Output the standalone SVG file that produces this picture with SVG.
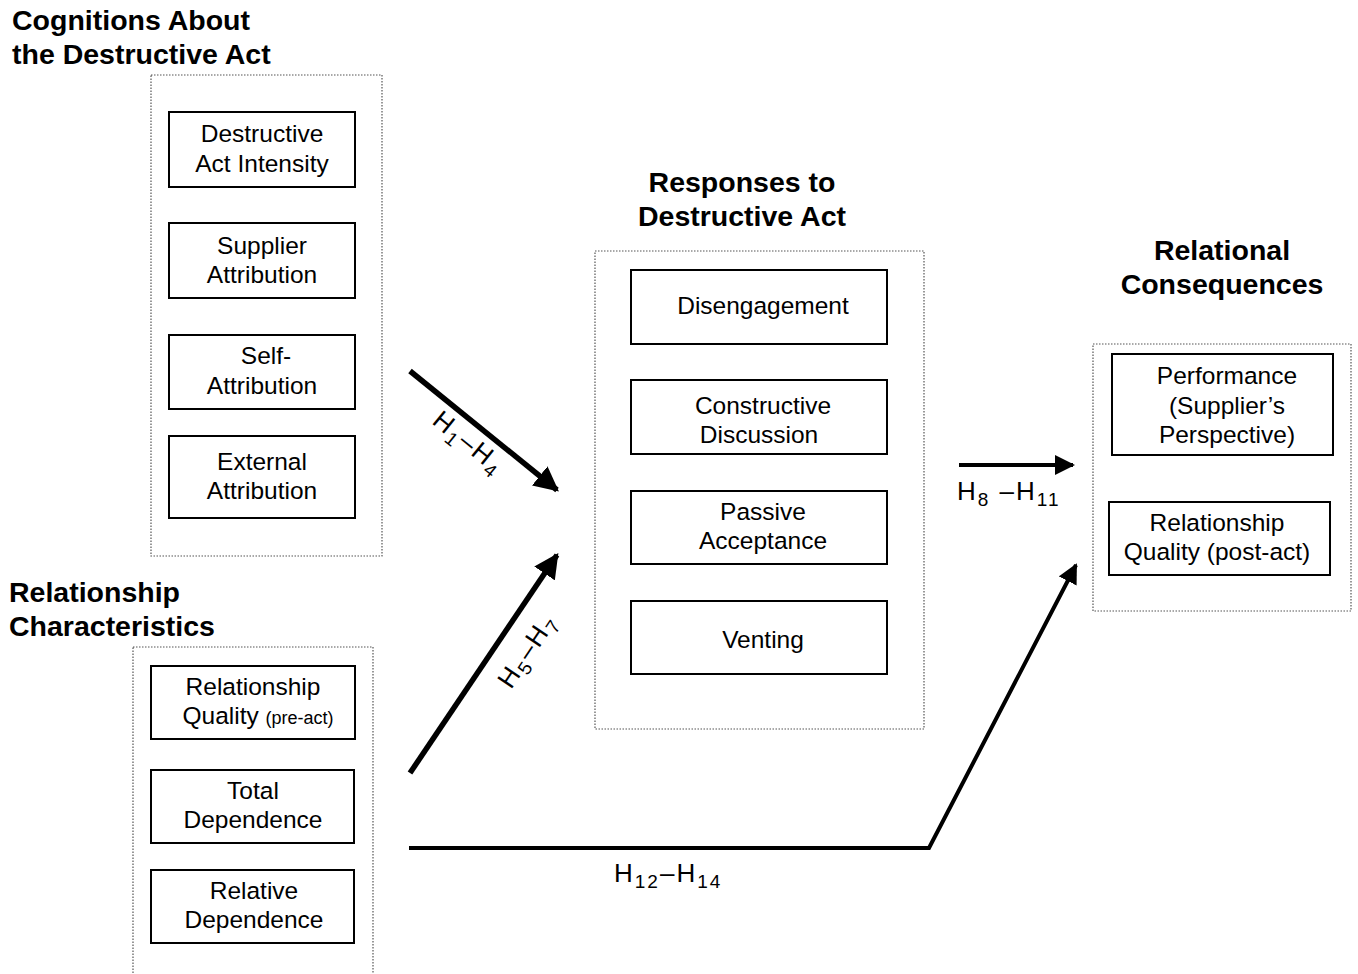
<svg xmlns="http://www.w3.org/2000/svg" width="1358" height="974" viewBox="0 0 1358 974">
<defs>
<style>
.grp{fill:none;stroke:#555;stroke-width:1.2;stroke-dasharray:1.5 1.5}
.box{fill:#fff;stroke:#000;stroke-width:2}
.t{font-family:"Liberation Sans",Arial,sans-serif;font-size:24.5px;fill:#000;text-anchor:middle}
.h{font-family:"Liberation Sans",Arial,sans-serif;font-size:28.5px;font-weight:bold;fill:#000}
.lbl{font-family:"Liberation Sans",Arial,sans-serif;font-size:26px;fill:#000;letter-spacing:2px}
.sub{font-size:19px}
.sm{font-size:18px}
.ar{fill:none;stroke:#000;stroke-width:5.5}
.ar2{fill:none;stroke:#000;stroke-width:4}
</style>
<marker id="ah" viewBox="0 0 10 10" refX="9" refY="5" markerWidth="4.5" markerHeight="4.5" markerUnits="strokeWidth" orient="auto">
<path d="M0,0 L10,5 L0,10 z" fill="#000"/>
</marker>
<marker id="ah2" viewBox="0 0 10 10" refX="9" refY="5" markerWidth="5" markerHeight="5" markerUnits="strokeWidth" orient="auto">
<path d="M0,0 L10,5 L0,10 z" fill="#000"/>
</marker>
</defs>
<rect width="1358" height="974" fill="#fff"/>

<g id="cognitions">
<text class="h" x="12" y="30">Cognitions About</text>
<text class="h" x="12" y="64">the Destructive Act</text>
<rect class="grp" x="151" y="75" width="231" height="481"/>
</g>
<g id="destructive-act-intensity">
<rect class="box" x="169" y="112" width="186" height="75"/>
<text class="t" x="262" y="142">Destructive</text>
<text class="t" x="262" y="172">Act Intensity</text>
</g>
<g id="supplier-attribution">
<rect class="box" x="169" y="223" width="186" height="75"/>
<text class="t" x="262" y="254">Supplier</text>
<text class="t" x="262" y="283">Attribution</text>
</g>
<g id="self-attribution">
<rect class="box" x="169" y="335" width="186" height="74"/>
<text class="t" x="266" y="364">Self-</text>
<text class="t" x="262" y="394">Attribution</text>
</g>
<g id="external-attribution">
<rect class="box" x="169" y="436" width="186" height="82"/>
<text class="t" x="262" y="470">External</text>
<text class="t" x="262" y="499">Attribution</text>
</g>

<g id="relationship-characteristics">
<text class="h" x="9" y="602">Relationship</text>
<text class="h" x="9" y="636">Characteristics</text>
<rect class="grp" x="133" y="647" width="240" height="340"/>
</g>
<g id="relationship-quality-pre">
<rect class="box" x="151" y="666" width="204" height="73"/>
<text class="t" x="253" y="695">Relationship</text>
<text class="t" x="258" y="724">Quality <tspan class="sm">(pre-act)</tspan></text>
</g>
<g id="total-dependence">
<rect class="box" x="151" y="770" width="203" height="73"/>
<text class="t" x="253" y="799">Total</text>
<text class="t" x="253" y="828">Dependence</text>
</g>
<g id="relative-dependence">
<rect class="box" x="151" y="870" width="203" height="73"/>
<text class="t" x="254" y="899">Relative</text>
<text class="t" x="254" y="928">Dependence</text>
</g>

<g id="responses">
<text class="h" x="742" y="192" text-anchor="middle">Responses to</text>
<text class="h" x="742" y="226" text-anchor="middle">Destructive Act</text>
<rect class="grp" x="595" y="251" width="329" height="478"/>
</g>
<g id="disengagement">
<rect class="box" x="631" y="270" width="256" height="74"/>
<text class="t" x="763" y="314">Disengagement</text>
</g>
<g id="constructive-discussion">
<rect class="box" x="631" y="380" width="256" height="74"/>
<text class="t" x="763" y="414">Constructive</text>
<text class="t" x="759" y="443">Discussion</text>
</g>
<g id="passive-acceptance">
<rect class="box" x="631" y="491" width="256" height="73"/>
<text class="t" x="763" y="520">Passive</text>
<text class="t" x="763" y="549">Acceptance</text>
</g>
<g id="venting">
<rect class="box" x="631" y="601" width="256" height="73"/>
<text class="t" x="763" y="648">Venting</text>
</g>

<g id="relational-consequences">
<text class="h" x="1222" y="260" text-anchor="middle">Relational</text>
<text class="h" x="1222" y="294" text-anchor="middle">Consequences</text>
<rect class="grp" x="1093" y="344" width="258" height="267"/>
</g>
<g id="performance">
<rect class="box" x="1112" y="354" width="221" height="101"/>
<text class="t" x="1227" y="384">Performance</text>
<text class="t" x="1227" y="414">(Supplier’s</text>
<text class="t" x="1227" y="443">Perspective)</text>
</g>
<g id="relationship-quality-post">
<rect class="box" x="1109" y="502" width="221" height="73"/>
<text class="t" x="1217" y="531">Relationship</text>
<text class="t" x="1217" y="560">Quality (post-act)</text>
</g>

<g id="connectors">
<line class="ar" x1="410" y1="371" x2="557" y2="490" marker-end="url(#ah)"/>
<line class="ar" x1="410" y1="773" x2="557" y2="555" marker-end="url(#ah)"/>
<line class="ar2" x1="959" y1="465" x2="1073" y2="465" marker-end="url(#ah2)"/>
<polyline class="ar2" points="409,848 929,848 1076,565" marker-end="url(#ah2)"/>
<text class="lbl" transform="translate(431,423) rotate(39)">H<tspan class="sub" dy="6">1</tspan><tspan dy="-6">–H</tspan><tspan class="sub" dy="6">4</tspan></text>
<text class="lbl" transform="translate(511,690) rotate(-56)">H<tspan class="sub" dy="6">5</tspan><tspan dy="-6">–H</tspan><tspan class="sub" dy="6">7</tspan></text>
<text class="lbl" x="957" y="500">H<tspan class="sub" dy="6">8</tspan><tspan dy="-6"> –H</tspan><tspan class="sub" dy="6">11</tspan></text>
<text class="lbl" x="614" y="882">H<tspan class="sub" dy="6">12</tspan><tspan dy="-6">–H</tspan><tspan class="sub" dy="6">14</tspan></text>
</g>
</svg>
